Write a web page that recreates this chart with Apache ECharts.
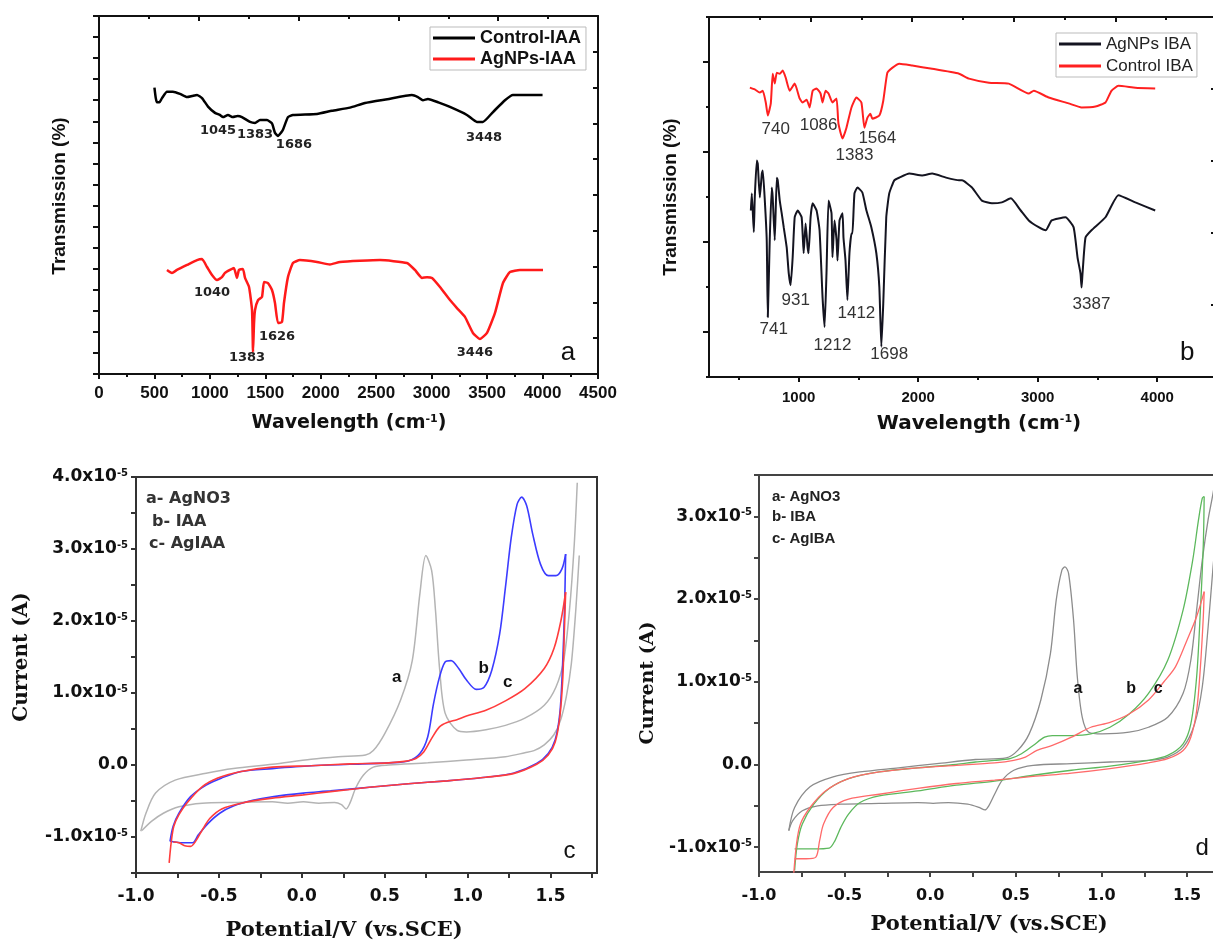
<!DOCTYPE html>
<html><head><meta charset="utf-8">
<script src="https://cdn.jsdelivr.net/npm/echarts@6/dist/echarts.min.js"></script>
<style>html,body{margin:0;padding:0;background:#fff}#chart{width:1213px;height:941px}</style>
</head><body><div id="chart"></div>
<script>
// ---------- Panel a : FTIR (IAA), wavenumber vs transmission (arb. units) ----------
const controlIAA = [[500,13.6],[512,13.1],[523,12.9],[545,12.9],[568,13.1],[613,13.4],[667,13.4],[730,13.3],[794,13.15],[840,13.2],[884,13.25],[929,13.1],[983,12.7],[1046,12.4],[1090,12.3],[1118,12.2],[1163,12.3],[1208,12.2],[1250,12.25],[1289,12.2],[1362,11.97],[1407,11.92],[1452,12.06],[1515,12.06],[1560,11.9],[1587,11.45],[1614,11.3],[1640,11.45],[1659,11.6],[1704,12.2],[1749,12.3],[1966,12.35],[2100,12.5],[2263,12.65],[2399,12.87],[2600,13.05],[2822,13.25],[2876,13.15],[2921,13.0],[2966,13.06],[3060,12.9],[3165,12.68],[3318,12.3],[3408,11.97],[3462,11.97],[3553,12.44],[3661,13.0],[3733,13.25],[3859,13.25],[4000,13.25]];
const agnpsIAA = [[613,4.94],[658,4.8],[703,4.94],[794,5.18],[884,5.41],[929,5.46],[974,5.08],[1019,4.7],[1064,4.46],[1109,4.6],[1136,4.8],[1181,4.94],[1217,5.03],[1244,4.56],[1262,4.94],[1298,4.99],[1317,4.56],[1353,4.13],[1380,3.04],[1389,1.04],[1398,2.4],[1407,3.04],[1434,3.51],[1470,3.66],[1488,4.37],[1524,4.32],[1560,3.99],[1587,3.37],[1614,2.42],[1650,2.47],[1668,3.37],[1704,4.6],[1749,5.27],[1812,5.41],[1966,5.32],[2083,5.2],[2173,5.32],[2534,5.41],[2777,5.27],[2849,4.94],[2913,4.56],[2958,4.6],[3003,4.56],[3075,4.13],[3165,3.51],[3228,3.13],[3300,2.71],[3372,1.95],[3435,1.66],[3499,1.95],[3571,2.9],[3643,4.32],[3706,4.84],[3796,4.94],[4004,4.94]];
const peaksA_control = [[1073,11.54,'1045'],[1407,11.35,'1383'],[1758,10.87,'1686'],[3472,11.21,'3448']];
const peaksA_agnps = [[1019,3.85,'1040'],[1605,1.76,'1626'],[1335,0.76,'1383'],[3390,1.0,'3446']];

// ---------- Panel b : FTIR (IBA) ----------
const agnpsIBA = [[600,3.70],[608,4.08],[625,3.22],[633,3.99],[650,4.81],[658,4.74],[675,3.99],[692,4.52],[700,4.59],[717,3.92],[733,3.04],[742,1.33],[758,3.04],[775,4.21],[783,3.99],[800,3.04],[817,4.43],[825,4.37],[842,3.92],[858,3.64],[875,3.33],[900,2.88],[917,2.31],[933,2.04],[950,2.66],[967,3.55],[992,3.70],[1025,3.55],[1042,2.75],[1058,3.41],[1075,2.88],[1083,2.75],[1100,3.55],[1117,3.86],[1150,3.70],[1175,3.26],[1200,1.77],[1217,1.11],[1233,2.31],[1250,3.92],[1275,3.64],[1283,2.66],[1300,3.48],[1317,3.04],[1325,2.59],[1342,3.48],[1367,3.64],[1375,3.10],[1392,2.59],[1408,1.71],[1425,2.75],[1442,3.19],[1450,3.19],[1467,4.08],[1492,4.21],[1533,4.10],[1567,3.70],[1608,3.33],[1650,2.75],[1675,2.00],[1692,0.67],[1708,1.64],[1733,3.55],[1758,4.08],[1800,4.37],[1842,4.43],[1925,4.52],[2033,4.48],[2117,4.52],[2233,4.43],[2342,4.37],[2367,4.37],[2450,4.21],[2533,3.92],[2617,3.86],[2700,3.88],[2775,3.97],[2858,3.70],[2925,3.48],[3008,3.33],[3067,3.26],[3117,3.48],[3233,3.55],[3300,3.33],[3333,2.66],[3358,2.3],[3367,1.99],[3375,2.3],[3400,3.10],[3450,3.26],[3567,3.55],[3675,4.04],[3817,3.88],[3983,3.70]];
const controlIBA = [[592,6.43],[633,6.39],[675,6.32],[700,6.36],[725,6.10],[742,5.81],[767,6.08],[783,6.74],[800,6.52],[817,6.76],[842,6.74],[867,6.81],[892,6.65],[925,6.36],[967,6.52],[1008,6.19],[1033,6.10],[1067,6.16],[1092,5.99],[1117,6.36],[1150,6.41],[1183,6.30],[1200,6.10],[1225,6.36],[1250,6.30],[1283,6.10],[1317,6.19],[1333,5.63],[1367,5.30],[1400,5.54],[1442,5.99],[1483,6.21],[1525,6.10],[1550,5.54],[1575,5.76],[1600,5.85],[1617,5.74],[1675,5.81],[1708,6.14],[1742,6.76],[1783,6.87],[1842,6.96],[1950,6.92],[2117,6.85],[2342,6.74],[2425,6.63],[2592,6.54],[2758,6.52],[2925,6.30],[2967,6.36],[3092,6.21],[3258,6.08],[3367,5.99],[3483,6.01],[3567,6.10],[3617,6.36],[3675,6.47],[3817,6.43],[3983,6.41]];
const peaksB_control = [[808,5.50,'740'],[1167,5.59,'1086'],[1658,5.30,'1564'],[1467,4.92,'1383']];
const peaksB_agnps = [[792,1.06,'741'],[975,1.71,'931'],[1283,0.71,'1212'],[1483,1.42,'1412'],[1758,0.51,'1698'],[3450,1.62,'3387']];

// ---------- Panel c : CV (IAA), potential V vs current in 1e-5 A ----------
const cvC_AgNO3_fwd = [[-0.971,-0.92],[-0.940,-0.67],[-0.882,-0.39],[-0.764,-0.21],[-0.577,-0.115],[-0.413,-0.05],[-0.178,0.01],[0.056,0.08],[0.22,0.115],[0.384,0.14],[0.431,0.20],[0.501,0.44],[0.595,0.90],[0.666,1.45],[0.712,2.38],[0.748,2.91],[0.783,2.70],[0.806,2.15],[0.830,1.36],[0.864,0.72],[0.937,0.48],[0.993,0.46],[1.110,0.49],[1.228,0.55],[1.345,0.65],[1.462,0.83],[1.532,1.08],[1.579,1.45],[1.614,2.15],[1.643,3.07],[1.661,3.92]];
const cvC_AgNO3_rev = [[1.673,2.91],[1.652,2.15],[1.625,1.40],[1.595,0.95],[1.560,0.62],[1.520,0.42],[1.462,0.28],[1.400,0.20],[1.345,0.17],[1.228,0.115],[0.993,0.07],[0.760,0.03],[0.525,0.0],[0.431,-0.03],[0.372,-0.14],[0.325,-0.32],[0.290,-0.53],[0.267,-0.61],[0.239,-0.55],[0.197,-0.52],[0.103,-0.53],[0.009,-0.51],[-0.085,-0.53],[-0.178,-0.51],[-0.413,-0.52],[-0.600,-0.53],[-0.741,-0.58],[-0.835,-0.67],[-0.905,-0.78],[-0.964,-0.91]];
const cvC_IAA_fwd = [[-0.795,-1.06],[-0.776,-0.85],[-0.741,-0.67],[-0.671,-0.44],[-0.577,-0.28],[-0.483,-0.18],[-0.366,-0.09],[-0.178,-0.05],[0.056,-0.01],[0.290,0.01],[0.525,0.03],[0.642,0.055],[0.712,0.16],[0.759,0.39],[0.794,0.85],[0.830,1.22],[0.864,1.43],[0.900,1.45],[0.946,1.34],[0.993,1.18],[1.052,1.05],[1.099,1.08],[1.146,1.32],[1.193,1.82],[1.228,2.47],[1.263,3.16],[1.298,3.62],[1.326,3.72],[1.356,3.60],[1.392,3.21],[1.439,2.79],[1.486,2.63],[1.532,2.63],[1.568,2.72],[1.591,2.93]];
const cvC_IAA_rev = [[1.591,2.93],[1.584,2.15],[1.572,1.36],[1.556,0.72],[1.528,0.35],[1.486,0.16],[1.416,0.02],[1.275,-0.115],[1.110,-0.17],[0.876,-0.22],[0.642,-0.26],[0.407,-0.31],[0.173,-0.36],[0.009,-0.39],[-0.178,-0.44],[-0.296,-0.49],[-0.413,-0.57],[-0.495,-0.67],[-0.565,-0.81],[-0.624,-0.97],[-0.659,-1.08],[-0.718,-1.08],[-0.764,-1.07],[-0.795,-1.06]];
const cvC_AgIAA_fwd = [[-0.800,-1.36],[-0.788,-1.08],[-0.772,-0.85],[-0.741,-0.69],[-0.694,-0.53],[-0.600,-0.30],[-0.507,-0.18],[-0.366,-0.09],[-0.178,-0.03],[0.056,-0.01],[0.290,0.015],[0.525,0.03],[0.619,0.05],[0.688,0.09],[0.735,0.18],[0.783,0.37],[0.830,0.53],[0.876,0.59],[0.935,0.63],[0.993,0.68],[1.110,0.76],[1.228,0.89],[1.345,1.06],[1.462,1.34],[1.521,1.62],[1.563,2.01],[1.591,2.40]];
const cvC_AgIAA_rev = [[1.591,2.40],[1.584,1.92],[1.574,1.22],[1.556,0.67],[1.528,0.32],[1.486,0.14],[1.416,0.01],[1.275,-0.12],[1.110,-0.17],[0.876,-0.22],[0.642,-0.26],[0.407,-0.31],[0.173,-0.37],[0.009,-0.415],[-0.178,-0.46],[-0.366,-0.53],[-0.483,-0.61],[-0.554,-0.74],[-0.600,-0.90],[-0.635,-1.04],[-0.671,-1.13],[-0.706,-1.12],[-0.741,-1.08],[-0.776,-1.07]];
const tagsC = [[0.572,1.22,'a'],[1.096,1.34,'b'],[1.241,1.15,'c']];

// ---------- Panel d : CV (IBA) ----------
const cvD_AgNO3_fwd = [[-0.826,-0.80],[-0.792,-0.52],[-0.702,-0.27],[-0.567,-0.15],[-0.410,-0.09],[-0.185,-0.04],[0.039,0.01],[0.264,0.06],[0.444,0.08],[0.511,0.17],[0.578,0.37],[0.646,0.78],[0.702,1.34],[0.736,1.99],[0.769,2.35],[0.787,2.39],[0.808,2.31],[0.837,1.75],[0.859,1.06],[0.888,0.57],[0.926,0.39],[1.005,0.37],[1.162,0.39],[1.275,0.45],[1.387,0.57],[1.477,0.86],[1.522,1.26],[1.556,1.87],[1.589,2.47],[1.623,2.96],[1.652,3.28],[1.675,3.6]];
const cvD_AgNO3_rev = [[1.675,2.9],[1.652,2.39],[1.623,1.66],[1.589,0.94],[1.544,0.49],[1.477,0.21],[1.387,0.09],[1.275,0.05],[1.050,0.03],[0.825,0.01],[0.601,-0.01],[0.488,-0.07],[0.421,-0.19],[0.376,-0.36],[0.342,-0.50],[0.320,-0.55],[0.286,-0.52],[0.219,-0.48],[0.107,-0.46],[0.017,-0.47],[-0.073,-0.46],[-0.298,-0.47],[-0.522,-0.48],[-0.657,-0.50],[-0.747,-0.56],[-0.803,-0.68],[-0.826,-0.80]];
const cvD_IBA_fwd = [[-0.792,-1.28],[-0.776,-0.96],[-0.747,-0.72],[-0.680,-0.48],[-0.590,-0.29],[-0.477,-0.17],[-0.298,-0.09],[-0.073,-0.04],[0.152,0.0],[0.264,0.03],[0.376,0.05],[0.466,0.07],[0.533,0.13],[0.601,0.23],[0.668,0.33],[0.713,0.35],[0.825,0.35],[0.938,0.37],[1.050,0.45],[1.162,0.61],[1.275,0.86],[1.387,1.26],[1.477,1.87],[1.533,2.47],[1.567,2.96],[1.589,3.22],[1.600,3.24]];
const cvD_IBA_rev = [[1.600,3.24],[1.595,2.67],[1.578,1.87],[1.556,1.06],[1.522,0.49],[1.477,0.25],[1.387,0.11],[1.275,0.05],[1.050,-0.02],[0.825,-0.07],[0.601,-0.13],[0.376,-0.20],[0.152,-0.25],[-0.073,-0.32],[-0.298,-0.38],[-0.410,-0.46],[-0.477,-0.60],[-0.522,-0.76],[-0.556,-0.92],[-0.590,-1.01],[-0.680,-1.02],[-0.792,-1.02]];
const cvD_AgIBA_fwd = [[-0.797,-1.32],[-0.781,-0.96],[-0.758,-0.72],[-0.702,-0.52],[-0.612,-0.32],[-0.477,-0.17],[-0.298,-0.09],[-0.073,-0.04],[0.152,-0.01],[0.376,0.02],[0.488,0.05],[0.556,0.09],[0.623,0.17],[0.713,0.23],[0.825,0.33],[0.938,0.45],[1.050,0.51],[1.162,0.61],[1.275,0.78],[1.365,1.00],[1.432,1.18],[1.499,1.50],[1.556,1.79],[1.600,2.09]];
const cvD_AgIBA_rev = [[1.600,2.09],[1.595,1.79],[1.578,1.18],[1.556,0.65],[1.522,0.33],[1.477,0.17],[1.387,0.07],[1.275,0.02],[1.050,-0.05],[0.825,-0.105],[0.601,-0.145],[0.376,-0.19],[0.152,-0.23],[-0.073,-0.29],[-0.298,-0.36],[-0.477,-0.42],[-0.567,-0.52],[-0.623,-0.72],[-0.646,-0.92],[-0.668,-1.12],[-0.724,-1.14],[-0.792,-1.14]];
const tagsD = [[0.863,0.92,'a'],[1.173,0.92,'b'],[1.331,0.92,'c']];

// ---------- Tick values ----------
const bXMajor = [1000,2000,3000,4000];
const bXMinor = [500,1500,2500,3500,4500];
const bYMajor = [1,3,5,7];
const cvXTicks = [-1,-0.75,-0.5,-0.25,0,0.25,0.5,0.75,1,1.25,1.5,1.75];
const cvXLabels = [-1,-0.5,0,0.5,1,1.5];
const cYTicks = [-1.5,-1,-0.5,0,0.5,1,1.5,2,2.5,3,3.5,4];
const cYLabels = [-1,0,1,2,3,4];
const dYTicks = [-1,-0.5,0,0.5,1,1.5,2,2.5,3,3.5];
const dYLabels = [-1,0,1,2,3];
const panelLetters = {a:[4229,1.0], b:[4250,0.53], c:[1.614,-1.20], d:[1.588,-1.02]};

// ---------- helpers ----------
function axis(o, col, lw) {
  col = col || '#111'; lw = lw || 2;
  const base = {type:'value', splitLine:{show:false}, minorSplitLine:{show:false}};
  const r = Object.assign({}, base, o);
  r.axisLine = Object.assign({show:true, onZero:false, lineStyle:{color:col, width:lw}}, o.axisLine||{});
  r.axisTick = Object.assign({show:true, inside:false, length:5, lineStyle:{color:col, width:lw}}, o.axisTick||{});
  r.axisLabel = Object.assign({show:false}, o.axisLabel||{});
  if (o.minorTick) r.minorTick = Object.assign({show:true, splitNumber:2, length:3, lineStyle:{color:col, width:lw}}, o.minorTick);
  return r;
}
function mp(list, style) {
  return {symbol:'circle', symbolSize:1, silent:true, animation:false,
    itemStyle:{color:'rgba(0,0,0,0)'},
    label:Object.assign({show:true, position:'inside', formatter:'{b}'}, style),
    data:list.map(p => ({name:p[2], coord:[p[0],p[1]]}))};
}
function line(name, data, xi, yi, color, width, smooth, extra) {
  return Object.assign({type:'line', name, data, xAxisIndex:xi, yAxisIndex:yi, showSymbol:false, symbol:'none',
    color, lineStyle:{color, width}, itemStyle:{color}, smooth, animation:false}, extra||{});
}
const plainFmt = v => String(v);
const cvFmt = v => v.toFixed(1);
const curFmt = v => v === 0 ? '{n|0.0}' : '{n|' + v.toFixed(1) + 'x10}{s|-5}';
const curRich = size => ({n:{fontFamily:'DejaVu Sans', fontWeight:'bold', fontSize:size, color:'#111'},
                          s:{fontFamily:'DejaVu Sans', fontWeight:'bold', fontSize:10, color:'#111', verticalAlign:'top'}});
const supRich = {sup:{fontSize:11, fontFamily:'DejaVu Sans', fontWeight:'bold', fill:'#111', verticalAlign:'top'}};

function txt(x, y, text, font, opts) {
  opts = opts || {};
  return {type:'text', x, y, rotation: opts.rot || 0, silent:true, z:100,
    style:Object.assign({text, fontFamily:font[0], fontWeight:font[1], fontSize:font[2], fill:opts.fill||'#111',
      align:opts.align||'center', textAlign:opts.align||'center', verticalAlign:'middle', textVerticalAlign:'middle'}, opts.rich ? {rich:opts.rich} : {})};
}

const labA = {color:'#222', fontFamily:'DejaVu Sans', fontWeight:'bold', fontSize:13};
const labB = {color:'#333', fontFamily:'Liberation Sans', fontWeight:'normal', fontSize:17};
const letterStyle = {color:'#111', fontFamily:'Liberation Sans', fontWeight:'normal', fontSize:26};

const option = {
  backgroundColor:'#fff',
  animation:false,
  grid:[
    {left:99, top:16, width:499, height:358, outerBoundsMode:'none', containLabel:false},
    {left:709, top:17, width:508, height:360, outerBoundsMode:'none', containLabel:false},
    {left:136, top:477, width:461, height:396, outerBoundsMode:'none', containLabel:false, show:true, borderColor:'#333', borderWidth:2, backgroundColor:'transparent'},
    {left:759, top:475, width:476, height:397, outerBoundsMode:'none', containLabel:false, show:true, borderColor:'#444', borderWidth:2, backgroundColor:'transparent'}
  ],
  xAxis:[
    axis({gridIndex:0, position:'bottom', min:0, max:4500, interval:500, minorTick:{length:3},
      axisLabel:{show:true, formatter:plainFmt, margin:11, fontFamily:'Liberation Sans', fontWeight:'bold', fontSize:17, color:'#111'}}),
    axis({gridIndex:0, position:'top', min:0, max:10, interval:2, axisTick:{inside:true, length:5}, minorTick:{length:3}}),
    axis({gridIndex:1, position:'bottom', min:250, max:4500, axisTick:{customValues:bXMajor, length:5},
      axisLabel:{show:true, customValues:bXMajor, formatter:plainFmt, margin:13, fontFamily:'Liberation Sans', fontWeight:'bold', fontSize:15, color:'#111'}}),
    axis({gridIndex:1, position:'bottom', min:250, max:4500, axisLine:{show:false}, axisTick:{customValues:bXMinor, length:3}}),
    axis({gridIndex:1, position:'top', min:0, max:10, interval:2, axisTick:{inside:true, length:5}, minorTick:{length:3}}),
    axis({gridIndex:2, position:'bottom', min:-1, max:1.78, axisTick:{customValues:cvXTicks, length:5},
      axisLabel:{show:true, customValues:cvXLabels, formatter:cvFmt, margin:15, fontFamily:'DejaVu Sans', fontWeight:'bold', fontSize:17, color:'#111'}}, '#333', 2),
    axis({gridIndex:3, position:'bottom', min:-1, max:1.78, axisTick:{customValues:cvXTicks, length:5},
      axisLabel:{show:true, customValues:cvXLabels, formatter:cvFmt, margin:16, fontFamily:'DejaVu Sans', fontWeight:'bold', fontSize:16, color:'#111'}}, '#444', 2)
  ],
  yAxis:[
    axis({gridIndex:0, position:'left', min:0, max:17, interval:1, axisTick:{length:6}}),
    axis({gridIndex:0, position:'right', min:0, max:10, interval:1, axisTick:{inside:true, length:5}}),
    axis({gridIndex:1, position:'left', min:0, max:8, axisTick:{customValues:bYMajor, length:6}}),
    axis({gridIndex:1, position:'left', min:0, max:8, interval:2, axisLine:{show:false}, axisTick:{length:3}}),
    axis({gridIndex:1, position:'right', min:0, max:10, interval:2, axisTick:{inside:true, length:6}, minorTick:{length:3}}),
    axis({gridIndex:2, position:'left', min:-1.5, max:4, axisTick:{customValues:cYTicks, length:5},
      axisLabel:{show:true, customValues:cYLabels, formatter:curFmt, rich:curRich(17), margin:8}}, '#333', 2),
    axis({gridIndex:3, position:'left', min:-1.3, max:3.5, axisTick:{customValues:dYTicks, length:5},
      axisLabel:{show:true, customValues:dYLabels, formatter:curFmt, rich:curRich(17), margin:7}}, '#444', 2)
  ],
  legend:[
    {data:['Control-IAA','AgNPs-IAA'], orient:'vertical', left:430, top:27, icon:'rect', itemWidth:42, itemHeight:3, itemGap:3,
      padding:[2,5,2,3], borderColor:'#bbb', borderWidth:1, selectedMode:false,
      textStyle:{fontFamily:'Liberation Sans', fontWeight:'bold', fontSize:18, color:'#111', lineHeight:18}},
    {data:['AgNPs IBA','Control IBA'], orient:'vertical', left:1056, top:33, icon:'rect', itemWidth:42, itemHeight:3, itemGap:4,
      padding:[2,4,2,3], borderColor:'#bbb', borderWidth:1, selectedMode:false,
      textStyle:{fontFamily:'Liberation Sans', fontWeight:'normal', fontSize:17, color:'#222', lineHeight:18}}
  ],
  series:[
    line('Control-IAA', controlIAA, 0, 0, '#000', 2.5, 0.15, {markPoint:mp(peaksA_control, labA)}),
    line('AgNPs-IAA', agnpsIAA, 0, 0, '#ff1a1a', 2.5, 0.15, {markPoint:{
      symbol:'circle', symbolSize:1, silent:true, itemStyle:{color:'rgba(0,0,0,0)'},
      label:Object.assign({show:true, position:'inside', formatter:'{b}'}, labA),
      data:peaksA_agnps.map(p => ({name:p[2], coord:[p[0],p[1]]})).concat([{name:'a', coord:panelLetters.a, label:letterStyle}])}}),
    line('AgNPs IBA', agnpsIBA, 2, 2, '#141420', 2, 0.15, {markPoint:{
      symbol:'circle', symbolSize:1, silent:true, itemStyle:{color:'rgba(0,0,0,0)'},
      label:Object.assign({show:true, position:'inside', formatter:'{b}'}, labB),
      data:peaksB_agnps.map(p => ({name:p[2], coord:[p[0],p[1]]})).concat([{name:'b', coord:panelLetters.b, label:letterStyle}])}}),
    line('Control IBA', controlIBA, 2, 2, '#ff2020', 2, 0.15, {markPoint:mp(peaksB_control, labB)}),

    line('AgNO3 (c) anodic', cvC_AgNO3_fwd, 5, 5, '#b4b4b4', 1.5, 0.3),
    line('AgNO3 (c) cathodic', cvC_AgNO3_rev, 5, 5, '#b4b4b4', 1.5, 0.3, {markPoint:{
      symbol:'circle', symbolSize:1, silent:true, itemStyle:{color:'rgba(0,0,0,0)'},
      data:[{name:'c', coord:panelLetters.c, label:{show:true, position:'inside', formatter:'{b}', color:'#111', fontFamily:'Liberation Sans', fontSize:24}}]}}),
    line('IAA anodic', cvC_IAA_fwd, 5, 5, '#3c3cff', 1.6, 0.3),
    line('IAA cathodic', cvC_IAA_rev, 5, 5, '#3c3cff', 1.6, 0.3),
    line('AgIAA anodic', cvC_AgIAA_fwd, 5, 5, '#ff3c3c', 1.6, 0.3),
    line('AgIAA cathodic', cvC_AgIAA_rev, 5, 5, '#ff3c3c', 1.6, 0.3, {markPoint:mp(tagsC, {color:'#111', fontFamily:'Liberation Sans', fontWeight:'bold', fontSize:17})}),

    line('AgNO3 (d) anodic', cvD_AgNO3_fwd, 6, 6, '#8c8c8c', 1.3, 0.3),
    line('AgNO3 (d) cathodic', cvD_AgNO3_rev, 6, 6, '#8c8c8c', 1.3, 0.3, {markPoint:{
      symbol:'circle', symbolSize:1, silent:true, itemStyle:{color:'rgba(0,0,0,0)'},
      data:[{name:'d', coord:panelLetters.d, label:{show:true, position:'inside', formatter:'{b}', color:'#111', fontFamily:'Liberation Sans', fontSize:24}}]}}),
    line('IBA anodic', cvD_IBA_fwd, 6, 6, '#5cb85c', 1.3, 0.3),
    line('IBA cathodic', cvD_IBA_rev, 6, 6, '#5cb85c', 1.3, 0.3),
    line('AgIBA anodic', cvD_AgIBA_fwd, 6, 6, '#ff6a6a', 1.3, 0.3),
    line('AgIBA cathodic', cvD_AgIBA_rev, 6, 6, '#ff6a6a', 1.3, 0.3, {markPoint:mp(tagsD, {color:'#111', fontFamily:'Liberation Sans', fontWeight:'bold', fontSize:16})})
  ],
  graphic:[
    txt(349, 423, 'Wavelength (cm{sup|-1})', ['DejaVu Sans','bold',19], {rich:supRich}),
    txt(60, 196, 'Transmission (%)', ['Liberation Sans','bold',19], {rot:Math.PI/2}),
    txt(979, 424, 'Wavelength (cm{sup|-1})', ['DejaVu Sans','bold',20], {rich:supRich}),
    txt(671, 197, 'Transmission (%)', ['Liberation Sans','bold',19], {rot:Math.PI/2}),
    txt(22, 657, 'Current (A)', ['DejaVu Serif','bold',20], {rot:Math.PI/2}),
    txt(344, 931, 'Potential/V (vs.SCE)', ['DejaVu Serif','bold',21]),
    txt(648, 683, 'Current (A)', ['DejaVu Serif','bold',19], {rot:Math.PI/2}),
    txt(989, 925, 'Potential/V (vs.SCE)', ['DejaVu Serif','bold',21]),
    txt(146, 499, 'a- AgNO3', ['DejaVu Sans','bold',16], {align:'left', fill:'#333'}),
    txt(152, 522, 'b- IAA', ['DejaVu Sans','bold',16], {align:'left', fill:'#333'}),
    txt(149, 544, 'c- AgIAA', ['DejaVu Sans','bold',16], {align:'left', fill:'#333'}),
    txt(772, 497, 'a- AgNO3', ['Liberation Sans','bold',15], {align:'left', fill:'#222'}),
    txt(772, 517, 'b- IBA', ['Liberation Sans','bold',15], {align:'left', fill:'#222'}),
    txt(772, 539, 'c- AgIBA', ['Liberation Sans','bold',15], {align:'left', fill:'#222'})
  ]
};
const chart = echarts.init(document.getElementById('chart'), null, {renderer:'canvas'});
chart.setOption(option);
</script></body></html>
